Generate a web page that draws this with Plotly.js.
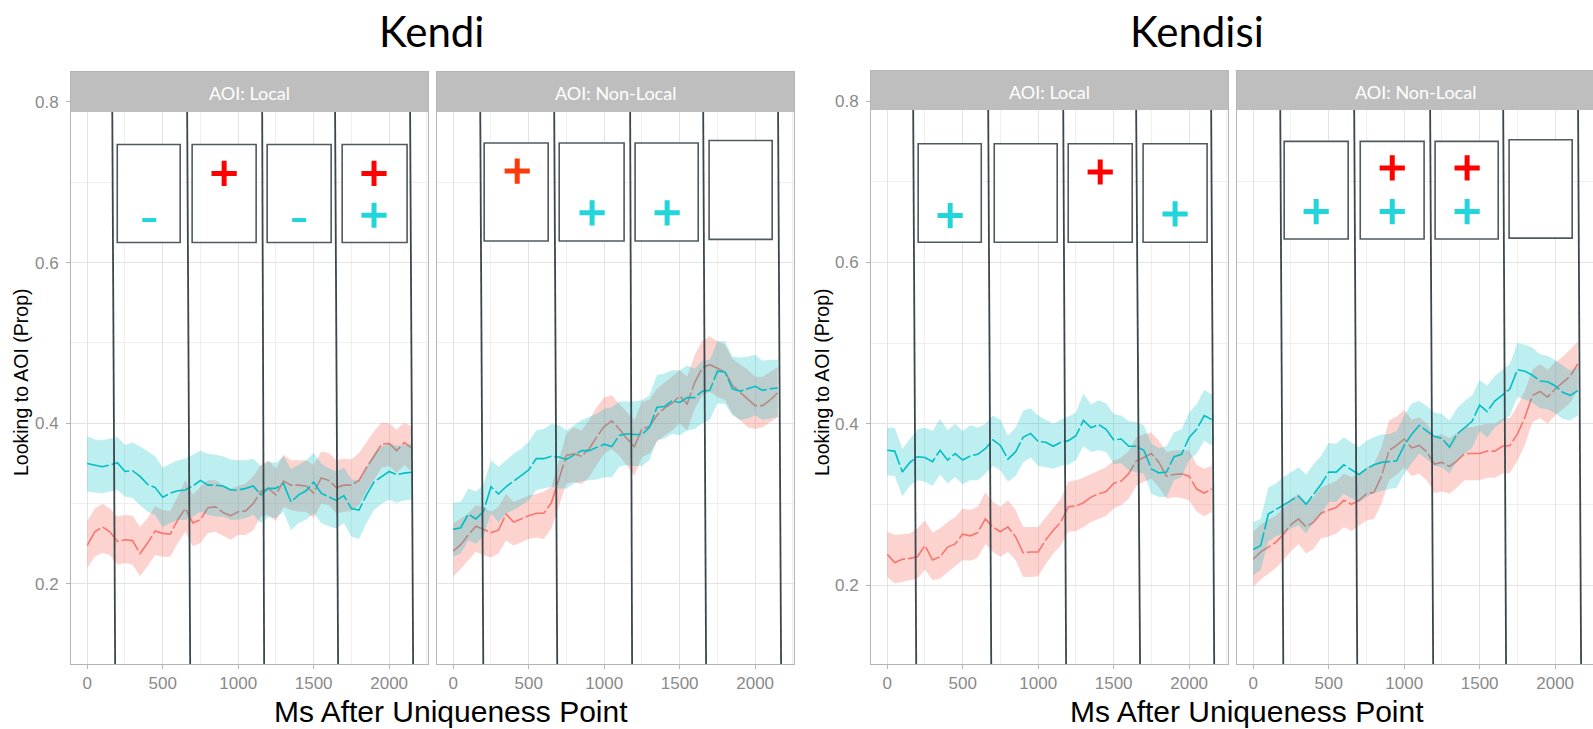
<!DOCTYPE html>
<html><head><meta charset="utf-8">
<script src="https://cdn.plot.ly/plotly-3.0.1.min.js"></script>
<style>html,body{margin:0;padding:0;background:#fff}#chart{width:1593px;height:729px}</style>
</head><body><div id="chart"></div>
<script>
// ---- time bins (ms after uniqueness point) ----
const ms = [0,50,100,150,200,250,300,350,400,450,500,550,600,650,700,750,800,850,900,950,1000,1050,1100,1150,1200,1250,1300,1350,1400,1450,1500,1550,1600,1650,1700,1750,1800,1850,1900,1950,2000,2050,2100,2150];
const groupTitles = ['Kendi','Kendisi'];
const facetLabels = ['AOI: Local','AOI: Non-Local','AOI: Local','AOI: Non-Local'];
const xTickVals = [0,500,1000,1500,2000];
const yTickVals = [0.2,0.4,0.6,0.8];
const xTitle = 'Ms After Uniqueness Point';
const yTitle = 'Looking to AOI (Prop)';

// ---- Kendi, AOI: Local ----
const kendiLocalRed   = [0.248,0.265,0.271,0.265,0.253,0.255,0.254,0.238,0.251,0.266,0.263,0.262,0.280,0.294,0.276,0.280,0.295,0.296,0.289,0.285,0.290,0.291,0.300,0.315,0.319,0.311,0.328,0.323,0.323,0.322,0.313,0.332,0.329,0.320,0.323,0.323,0.329,0.345,0.359,0.374,0.375,0.366,0.376,0.369];
const kendiLocalRedHi = [0.278,0.294,0.300,0.294,0.284,0.286,0.285,0.271,0.282,0.297,0.292,0.291,0.309,0.329,0.311,0.321,0.329,0.329,0.323,0.319,0.322,0.325,0.334,0.348,0.354,0.343,0.361,0.354,0.354,0.354,0.348,0.365,0.363,0.354,0.356,0.355,0.363,0.377,0.390,0.401,0.400,0.392,0.401,0.396];
const kendiLocalRedLo = [0.220,0.234,0.239,0.236,0.224,0.226,0.224,0.210,0.222,0.236,0.234,0.234,0.251,0.265,0.247,0.251,0.263,0.265,0.260,0.255,0.261,0.261,0.267,0.284,0.286,0.278,0.296,0.292,0.290,0.290,0.282,0.300,0.298,0.288,0.290,0.291,0.298,0.315,0.329,0.345,0.347,0.338,0.348,0.340];
const kendiLocalCyan   = [0.350,0.348,0.346,0.348,0.351,0.340,0.341,0.334,0.324,0.320,0.308,0.313,0.316,0.317,0.322,0.329,0.323,0.323,0.322,0.317,0.317,0.319,0.322,0.311,0.319,0.319,0.325,0.302,0.311,0.316,0.327,0.313,0.308,0.304,0.310,0.294,0.292,0.311,0.327,0.334,0.340,0.336,0.338,0.339];
const kendiLocalCyanHi = [0.384,0.380,0.379,0.381,0.383,0.373,0.376,0.371,0.365,0.359,0.345,0.350,0.354,0.356,0.361,0.366,0.362,0.361,0.359,0.355,0.354,0.354,0.356,0.347,0.352,0.351,0.359,0.343,0.348,0.354,0.363,0.350,0.344,0.340,0.345,0.330,0.329,0.345,0.363,0.371,0.375,0.372,0.373,0.375];
const kendiLocalCyanLo = [0.315,0.314,0.313,0.315,0.317,0.309,0.307,0.298,0.290,0.286,0.271,0.276,0.280,0.280,0.284,0.290,0.286,0.284,0.284,0.280,0.280,0.282,0.286,0.276,0.283,0.282,0.290,0.267,0.276,0.280,0.288,0.276,0.272,0.269,0.276,0.259,0.256,0.276,0.292,0.300,0.305,0.301,0.304,0.305];

// ---- Kendi, AOI: Non-Local ----
const kendiNonRed   = [0.241,0.249,0.261,0.272,0.268,0.264,0.267,0.287,0.277,0.281,0.285,0.288,0.288,0.301,0.330,0.360,0.362,0.359,0.368,0.383,0.396,0.403,0.393,0.381,0.371,0.393,0.396,0.410,0.419,0.425,0.434,0.424,0.451,0.469,0.473,0.468,0.464,0.447,0.439,0.431,0.422,0.422,0.429,0.438];
const kendiNonRedHi = [0.275,0.281,0.288,0.298,0.296,0.290,0.296,0.312,0.302,0.306,0.310,0.312,0.315,0.321,0.354,0.387,0.395,0.391,0.404,0.420,0.432,0.435,0.424,0.414,0.404,0.427,0.429,0.443,0.451,0.458,0.466,0.458,0.485,0.503,0.508,0.502,0.498,0.480,0.474,0.467,0.458,0.458,0.464,0.470];
const kendiNonRedLo = [0.209,0.219,0.229,0.240,0.236,0.233,0.238,0.254,0.248,0.252,0.256,0.258,0.256,0.269,0.298,0.325,0.327,0.324,0.333,0.348,0.362,0.368,0.360,0.348,0.335,0.358,0.362,0.377,0.385,0.391,0.400,0.391,0.418,0.435,0.439,0.433,0.429,0.412,0.404,0.395,0.393,0.395,0.402,0.408];
const kendiNonCyan   = [0.268,0.270,0.287,0.281,0.290,0.321,0.312,0.321,0.328,0.335,0.342,0.356,0.356,0.359,0.358,0.355,0.361,0.366,0.366,0.370,0.374,0.371,0.385,0.387,0.386,0.386,0.395,0.420,0.421,0.428,0.426,0.432,0.432,0.440,0.441,0.465,0.464,0.443,0.440,0.443,0.446,0.441,0.443,0.444];
const kendiNonCyanHi = [0.301,0.302,0.319,0.315,0.323,0.354,0.346,0.354,0.362,0.368,0.377,0.391,0.393,0.399,0.398,0.391,0.398,0.404,0.408,0.412,0.418,0.420,0.427,0.427,0.427,0.429,0.435,0.460,0.462,0.466,0.466,0.472,0.468,0.478,0.479,0.502,0.502,0.483,0.482,0.483,0.485,0.478,0.479,0.479];
const kendiNonCyanLo = [0.234,0.238,0.254,0.250,0.259,0.288,0.277,0.288,0.292,0.298,0.304,0.317,0.319,0.321,0.319,0.319,0.325,0.328,0.329,0.330,0.333,0.333,0.346,0.348,0.347,0.347,0.354,0.379,0.381,0.387,0.385,0.391,0.393,0.400,0.404,0.425,0.424,0.410,0.404,0.406,0.410,0.404,0.406,0.408];

// ---- Kendisi, AOI: Local ----
const kendisiLocalRed   = [0.238,0.228,0.232,0.233,0.235,0.249,0.231,0.235,0.247,0.251,0.263,0.261,0.265,0.282,0.272,0.266,0.272,0.260,0.240,0.241,0.241,0.256,0.268,0.278,0.297,0.298,0.302,0.309,0.313,0.316,0.326,0.329,0.338,0.354,0.358,0.363,0.352,0.335,0.337,0.338,0.335,0.319,0.314,0.319];
const kendisiLocalRedHi = [0.266,0.262,0.263,0.264,0.270,0.280,0.265,0.270,0.278,0.284,0.295,0.293,0.297,0.315,0.303,0.297,0.305,0.293,0.272,0.272,0.272,0.284,0.296,0.307,0.328,0.330,0.333,0.338,0.342,0.346,0.354,0.358,0.366,0.383,0.387,0.389,0.379,0.365,0.367,0.367,0.367,0.349,0.344,0.348];
const kendisiLocalRedLo = [0.210,0.202,0.204,0.206,0.208,0.219,0.206,0.208,0.216,0.223,0.231,0.230,0.234,0.251,0.241,0.235,0.241,0.231,0.210,0.210,0.211,0.226,0.239,0.249,0.266,0.267,0.272,0.278,0.282,0.286,0.295,0.299,0.307,0.323,0.328,0.332,0.321,0.307,0.309,0.308,0.305,0.291,0.285,0.291];
const kendisiLocalCyan   = [0.367,0.366,0.340,0.352,0.359,0.358,0.353,0.367,0.355,0.363,0.355,0.360,0.362,0.369,0.380,0.373,0.356,0.365,0.383,0.388,0.378,0.377,0.372,0.377,0.379,0.385,0.404,0.395,0.399,0.393,0.380,0.381,0.372,0.372,0.367,0.344,0.339,0.340,0.359,0.362,0.383,0.393,0.410,0.405];
const kendisiLocalCyanHi = [0.395,0.395,0.369,0.381,0.393,0.395,0.391,0.406,0.392,0.400,0.391,0.398,0.395,0.400,0.410,0.405,0.385,0.395,0.416,0.419,0.410,0.405,0.400,0.405,0.409,0.414,0.437,0.424,0.429,0.425,0.412,0.410,0.403,0.402,0.398,0.375,0.370,0.372,0.389,0.393,0.414,0.424,0.442,0.436];
const kendisiLocalCyanLo = [0.336,0.335,0.310,0.323,0.330,0.328,0.323,0.337,0.326,0.334,0.325,0.330,0.330,0.338,0.348,0.342,0.328,0.335,0.352,0.358,0.348,0.346,0.344,0.348,0.349,0.355,0.372,0.365,0.367,0.365,0.350,0.351,0.342,0.340,0.338,0.313,0.309,0.309,0.330,0.334,0.355,0.363,0.379,0.373];

// ---- Kendisi, AOI: Non-Local ----
const kendisiNonRed   = [0.232,0.241,0.247,0.253,0.263,0.275,0.282,0.272,0.278,0.289,0.293,0.296,0.305,0.300,0.305,0.313,0.315,0.335,0.367,0.373,0.381,0.370,0.373,0.365,0.350,0.352,0.347,0.354,0.363,0.363,0.363,0.366,0.366,0.372,0.373,0.387,0.408,0.435,0.440,0.433,0.443,0.451,0.459,0.474];
const kendisiNonRedHi = [0.266,0.275,0.281,0.286,0.295,0.307,0.313,0.303,0.309,0.321,0.325,0.329,0.338,0.334,0.338,0.346,0.350,0.371,0.404,0.409,0.417,0.405,0.408,0.400,0.385,0.387,0.382,0.389,0.396,0.396,0.398,0.400,0.400,0.406,0.407,0.422,0.441,0.467,0.474,0.467,0.476,0.483,0.492,0.502];
const kendisiNonRedLo = [0.198,0.207,0.214,0.221,0.231,0.242,0.251,0.239,0.245,0.258,0.260,0.264,0.272,0.267,0.273,0.280,0.282,0.301,0.330,0.337,0.346,0.335,0.338,0.330,0.314,0.316,0.313,0.321,0.330,0.330,0.330,0.333,0.333,0.338,0.339,0.354,0.374,0.402,0.407,0.400,0.410,0.418,0.426,0.441];
const kendisiNonCyan   = [0.244,0.249,0.288,0.293,0.299,0.305,0.310,0.300,0.313,0.325,0.340,0.340,0.349,0.343,0.337,0.344,0.349,0.352,0.353,0.354,0.373,0.387,0.398,0.391,0.384,0.382,0.371,0.387,0.395,0.403,0.423,0.415,0.428,0.436,0.443,0.467,0.465,0.460,0.453,0.452,0.447,0.439,0.435,0.441];
const kendisiNonCyanHi = [0.278,0.282,0.321,0.326,0.334,0.340,0.346,0.337,0.350,0.360,0.376,0.375,0.383,0.377,0.371,0.379,0.383,0.387,0.387,0.391,0.410,0.425,0.428,0.422,0.414,0.412,0.404,0.419,0.428,0.435,0.454,0.447,0.459,0.466,0.474,0.500,0.498,0.494,0.486,0.484,0.479,0.472,0.466,0.470];
const kendisiNonCyanLo = [0.212,0.219,0.254,0.260,0.264,0.270,0.274,0.264,0.278,0.288,0.303,0.303,0.313,0.307,0.302,0.309,0.314,0.317,0.319,0.321,0.338,0.351,0.363,0.356,0.348,0.346,0.338,0.354,0.363,0.370,0.391,0.383,0.395,0.403,0.410,0.433,0.430,0.426,0.419,0.418,0.413,0.406,0.404,0.410];

// ---- analysis-window boundaries (ms) drawn as vertical lines: at bottom / at top ----
const windowBottom = [[185,682,1172,1662,2159],[199,689,1185,1675,2172],[192,689,1185,1675,2166],[199,689,1192,1675,2172]];
const windowTop    = [[166,662,1159,1642,2139],[179,669,1172,1656,2152],[172,669,1166,1649,2146],[179,669,1172,1656,2152]];

// ---- result boxes per window: [msStart, msEnd, propLow, propHigh] ----
const boxes = [
  [[199,616,0.625,0.747],[695,1119,0.625,0.747],[1192,1616,0.625,0.747],[1689,2119,0.625,0.747]],
  [[205,629,0.627,0.749],[702,1132,0.627,0.749],[1205,1623,0.627,0.749],[1695,2113,0.629,0.752]],
  [[205,623,0.625,0.747],[709,1126,0.625,0.747],[1199,1623,0.625,0.747],[1695,2119,0.625,0.747]],
  [[205,629,0.629,0.750],[709,1132,0.629,0.750],[1205,1623,0.629,0.750],[1695,2113,0.630,0.752]]
];
// ---- significance marks: [ms, prop, sign, which] ----
const marks = [
  [[411,0.653,'-','c'],[907,0.711,'+','r'],[1404,0.653,'-','c'],[1900,0.711,'+','r'],[1900,0.659,'+','c']],
  [[424,0.714,'+','o'],[920,0.662,'+','c'],[1417,0.662,'+','c']],
  [[417,0.658,'+','c'],[1411,0.712,'+','r'],[1907,0.660,'+','c']],
  [[417,0.663,'+','c'],[921,0.717,'+','r'],[921,0.663,'+','c'],[1417,0.717,'+','r'],[1417,0.663,'+','c']]
];

const panels = [
  {red:kendiLocalRed, redLo:kendiLocalRedLo, redHi:kendiLocalRedHi, cy:kendiLocalCyan, cyLo:kendiLocalCyanLo, cyHi:kendiLocalCyanHi},
  {red:kendiNonRed, redLo:kendiNonRedLo, redHi:kendiNonRedHi, cy:kendiNonCyan, cyLo:kendiNonCyanLo, cyHi:kendiNonCyanHi},
  {red:kendisiLocalRed, redLo:kendisiLocalRedLo, redHi:kendisiLocalRedHi, cy:kendisiLocalCyan, cyLo:kendisiLocalCyanLo, cyHi:kendisiLocalCyanHi},
  {red:kendisiNonRed, redLo:kendisiNonRedLo, redHi:kendisiNonRedHi, cy:kendisiNonCyan, cyLo:kendisiNonCyanLo, cyHi:kendisiNonCyanHi}
];

// ---- geometry (pixels in a 1593x729 page) ----
const W = 1593, H = 729;
const pxDomains = [[71,428],[437,794],[871,1228],[1237,1593]];
const pxTop = [72,72,71,71], pxBottom = 664, pxStripBottom = [112,112,110,110];
const xRanges = [[-107.5,2257.5],[-107.5,2257.5],[-107.5,2257.5],[-107.5,2250.9]];
const yRanges = [[0.1004,0.8373],[0.1004,0.8373],[0.1021,0.8372],[0.1021,0.8372]];

const RED = '#F8766D', CYAN = '#00BFC4';
const markColor = {r:'#ff0000', o:'#ff3a0a', c:'#22d5d8'};
const tickFont = {family:'Liberation Sans, Arial, sans-serif', size:17, color:'#8a8a8a'};

const traces = [];
const layout = {
  width:W, height:H, margin:{l:0,r:0,t:0,b:0},
  paper_bgcolor:'#ffffff', plot_bgcolor:'#ffffff', showlegend:false,
  shapes:[], annotations:[]
};

panels.forEach((p, i) => {
  const n = i === 0 ? '' : String(i+1);
  const xa = 'x'+n, ya = 'y'+n;
  const stripFrac = (pxBottom - pxStripBottom[i]) / (pxBottom - pxTop[i]);
  layout['xaxis'+n] = {
    domain:[pxDomains[i][0]/W, Math.min(1, pxDomains[i][1]/W)], anchor:ya,
    range:xRanges[i], tickmode:'array', tickvals:xTickVals,
    showgrid:true, gridcolor:'#e3e3e3', gridwidth:1,
    minor:{tick0:0, dtick:250, showgrid:true, gridcolor:'#efefef', gridwidth:1, ticks:''},
    showline:true, mirror:true, linecolor:'#b5b5b5', linewidth:1,
    ticks:'outside', ticklen:4, tickcolor:'#b5b5b5', tickfont:tickFont, ticklabelstandoff:0,
    zeroline:false, fixedrange:true
  };
  layout['yaxis'+n] = {
    domain:[1 - pxBottom/H, 1 - pxTop[i]/H], anchor:xa,
    range:yRanges[i], tickmode:'array', tickvals:yTickVals, ticktext:yTickVals.map(v=>v.toFixed(1)),
    showgrid:true, gridcolor:'#e3e3e3', gridwidth:1,
    minor:{tick0:0, dtick:0.1, showgrid:true, gridcolor:'#efefef', gridwidth:1, ticks:''},
    showline:true, mirror:true, linecolor:'#b5b5b5', linewidth:1,
    ticks: (i%2===0) ? 'outside' : '', ticklen:4, tickcolor:'#b5b5b5',
    showticklabels: i%2===0, tickfont:tickFont, ticklabelstandoff:4,
    zeroline:false, fixedrange:true
  };
  const band = (lo, hi, fc) => ({
    x: ms.concat(ms.slice().reverse()), y: hi.concat(lo.slice().reverse()),
    mode:'lines', fill:'toself', fillcolor:fc, line:{width:0}, xaxis:xa, yaxis:ya, hoverinfo:'skip'
  });
  const line = (v, c) => ({x:ms, y:v, mode:'lines', line:{color:c, width:1.6, dash:'22px,3px'}, xaxis:xa, yaxis:ya});
  traces.push(band(p.redLo, p.redHi, 'rgba(248,118,109,0.32)'));
  traces.push(line(p.red, RED));
  traces.push(band(p.cyLo, p.cyHi, 'rgba(0,191,196,0.26)'));
  traces.push(line(p.cy, CYAN));

  // marks
  marks[i].forEach(m => {
    const plus = m[2] === '+';
    traces.push({
      x:[m[0]], y:[m[1]], mode:'markers', xaxis:xa, yaxis:ya, hoverinfo:'skip',
      marker:{symbol: plus ? 'cross-thin' : 'line-ew', size: plus ? 18 : 10,
              color:markColor[m[3]], line:{color:markColor[m[3]], width: plus ? 5 : 4}}
    });
  });

  // boxes
  boxes[i].forEach(b => layout.shapes.push({
    type:'rect', xref:xa, yref:ya, x0:b[0], x1:b[1], y0:b[2], y1:b[3],
    fillcolor:'#ffffff', line:{color:'#4f5a5f', width:1.6}, layer:'between'
  }));
  // window lines
  windowBottom[i].forEach((xb, k) => layout.shapes.push({
    type:'line', xref:xa, yref:ya+' domain', x0:xb, y0:0, x1:windowTop[i][k], y1:stripFrac,
    line:{color:'#3a474d', width:1.8}, layer:'above'
  }));
  // strip
  layout.shapes.push({
    type:'rect', xref:xa+' domain', yref:ya+' domain', x0:0, x1:1, y0:stripFrac, y1:1,
    fillcolor:'#bebebe', line:{width:0}, layer:'above'
  });
  const cx = (pxDomains[i][0] + Math.min(W, pxDomains[i][1] + (i===3?1:0))) / 2;
  layout.annotations.push({
    text:facetLabels[i], xref:'paper', yref:'paper', x:cx/W, y:1 - ((pxTop[i]+pxStripBottom[i])/2 + 1)/H,
    xanchor:'center', yanchor:'middle', showarrow:false,
    font:{family:'Lato, Open Sans, sans-serif', size:18, color:'#ffffff'}
  });
});

// group titles
[[431,31],[1197,31]].forEach((pos, g) => layout.annotations.push({
  text:groupTitles[g], xref:'paper', yref:'paper', x:pos[0]/W, y:1-pos[1]/H,
  xanchor:'center', yanchor:'middle', showarrow:false,
  font:{family:'Lato, Open Sans, sans-serif', size:42, color:'#000000'}
}));
// x titles
[[451,711],[1247,711]].forEach(pos => layout.annotations.push({
  text:xTitle, xref:'paper', yref:'paper', x:pos[0]/W, y:1-pos[1]/H,
  xanchor:'center', yanchor:'middle', showarrow:false, borderpad:0,
  font:{family:'Liberation Sans, Arial, sans-serif', size:30, color:'#000000'}
}));
// y titles
[[21,382],[822,382]].forEach(pos => layout.annotations.push({
  text:yTitle, xref:'paper', yref:'paper', x:pos[0]/W, y:1-pos[1]/H,
  xanchor:'center', yanchor:'middle', showarrow:false, textangle:-90,
  font:{family:'Liberation Sans, Arial, sans-serif', size:19.5, color:'#000000'}
}));

Plotly.newPlot('chart', traces, layout, {staticPlot:true, displayModeBar:false});
</script>
</body></html>
